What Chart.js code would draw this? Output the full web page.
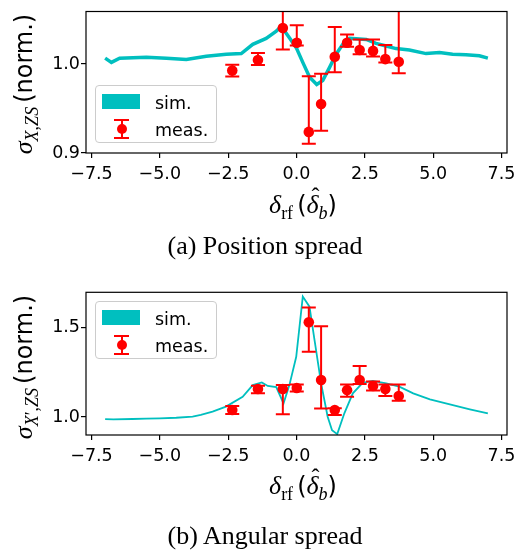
<!DOCTYPE html>
<html><head><meta charset="utf-8">
<script src="https://cdn.jsdelivr.net/npm/chart.js@4.4.0/dist/chart.umd.min.js"></script>
<style>
html,body{margin:0;padding:0;background:#fff;}
#wrap{position:relative;width:528px;height:557px;overflow:hidden;background:#fff;}
canvas{position:absolute;left:0;}
.ylab{position:absolute;white-space:nowrap;transform:translate(-50%,-50%) rotate(-90deg);line-height:30px;color:#000;}
.sans{font-family:"DejaVu Sans";font-size:24px;}
.si{font-family:"Liberation Serif";font-style:italic;font-size:26px;}
.sr{font-family:"Liberation Serif";font-size:26px;}
.sub{font-family:"Liberation Serif";font-size:18px;position:relative;top:6px;}
.hatw{position:relative;display:inline-block;}
.hat{position:absolute;left:5px;top:-9px;font-family:"Liberation Serif";font-size:24px;font-style:normal;}
.xlab{position:absolute;white-space:nowrap;transform:translateX(-50%);line-height:30px;color:#000;}
.cap{position:absolute;white-space:nowrap;transform:translateX(-50%);font-family:"Liberation Serif";font-size:26px;line-height:26px;color:#000;}
.leg{position:absolute;width:122px;height:58px;box-sizing:border-box;border:1px solid #cccccc;border-radius:4px;background:rgba(255,255,255,0.8);}
.leg .patch{position:absolute;left:6px;top:8px;width:38px;height:15px;background:#00bfbf;}
.leg .lt{position:absolute;left:59px;font-family:"DejaVu Sans";font-size:17.5px;line-height:18px;color:#000;}
.leg .ev{position:absolute;left:24.5px;top:33px;width:2px;height:19px;background:#ff0000;}
.leg .ec{position:absolute;left:18px;width:15px;height:2px;background:#ff0000;}
.leg .em{position:absolute;left:20.5px;top:37.5px;width:10px;height:10px;border-radius:50%;background:#ff0000;}
</style>
</head><body>
<div id="wrap">
  <canvas id="cA" width="528" height="190" style="top:0px;width:528px;height:190px;"></canvas>
  <canvas id="cB" width="528" height="190" style="top:280px;width:528px;height:190px;"></canvas>

  <div class="ylab" style="left:25px;top:84px;"><span class="si">σ</span><span class="sub"><i>X</i>,<i>ZS</i></span> <span class="sans">(norm.)</span></div>
  <div class="ylab" style="left:25px;top:367px;"><span class="si">σ</span><span class="sub"><i>X</i>′,<i>ZS</i></span> <span class="sans">(norm.)</span></div>

  <div class="xlab" style="left:303px;top:190px;"><span class="si">δ</span><span class="sub">rf</span> <span class="sans">(</span><span class="si hatw">δ<span class="hat">ˆ</span></span><span class="sub"><i>b</i></span><span class="sans">)</span></div>
  <div class="xlab" style="left:303px;top:471px;"><span class="si">δ</span><span class="sub">rf</span> <span class="sans">(</span><span class="si hatw">δ<span class="hat">ˆ</span></span><span class="sub"><i>b</i></span><span class="sans">)</span></div>

  <div class="cap" style="left:265px;top:233px;">(a) Position spread</div>
  <div class="cap" style="left:265px;top:523px;">(b) Angular spread</div>

  <div class="leg" style="left:95px;top:85px;">
    <div class="patch"></div><span class="lt" style="top:8px;">sim.</span>
    <div class="ev"></div><div class="ec" style="top:33px;"></div><div class="ec" style="top:51px;"></div><div class="em"></div>
    <span class="lt" style="top:35px;">meas.</span>
  </div>
  <div class="leg" style="left:95px;top:301px;">
    <div class="patch"></div><span class="lt" style="top:8px;">sim.</span>
    <div class="ev"></div><div class="ec" style="top:33px;"></div><div class="ec" style="top:51px;"></div><div class="em"></div>
    <span class="lt" style="top:35px;">meas.</span>
  </div>
</div>
<script>
// ---- data ----
const xTickValues = [-7.5, -5.0, -2.5, 0.0, 2.5, 5.0, 7.5];
const xTickLabels = ['\u22127.5', '\u22125.0', '\u22122.5', '0.0', '2.5', '5.0', '7.5'];
const yTicksPos = [0.9, 1.0];
const yTickLabelsPos = ['0.9', '1.0'];
const yTicksAng = [1.0, 1.5];
const yTickLabelsAng = ['1.0', '1.5'];

const measX = [-2.35, -1.41, -0.50, 0.01, 0.45, 0.90, 1.40, 1.85, 2.31, 2.80, 3.25, 3.74];

const measPos = [0.9926, 1.0044, 1.0405, 1.0239, 0.9237, 0.9550, 1.0081, 1.0239, 1.0158, 1.0147, 1.0055, 1.0025];
const measPosErrLo = [0.0066, 0.0055, 0.0243, 0.0030, 0.0133, 0.0300, 0.0173, 0.0044, 0.0048, 0.0063, 0.0037, 0.0129];
const measPosErrHi = [0.0066, 0.0080, 0.0243, 0.0196, 0.0626, 0.0340, 0.0335, 0.0093, 0.0118, 0.0129, 0.0159, 0.0700];

const measAng = [1.039, 1.156, 1.156, 1.162, 1.528, 1.206, 1.039, 1.150, 1.206, 1.173, 1.156, 1.117];
const measAngErrLo = [0.022, 0.024, 0.140, 0.020, 0.164, 0.158, 0.028, 0.037, 0.022, 0.025, 0.039, 0.026];
const measAngErrHi = [0.022, 0.019, 0.022, 0.020, 0.082, 0.300, 0.010, 0.032, 0.078, 0.025, 0.026, 0.065];

const simPosX = [-7.0, -6.77, -6.47, -5.49, -4.76, -4.03, -3.30, -2.57, -2.02, -1.60, -1.11, -0.74, -0.56, -0.26, -0.01, 0.23, 0.48, 0.74, 0.96, 1.21, 1.45, 1.69, 1.94, 2.18, 2.55, 2.91, 3.28, 3.64, 4.13, 4.74, 5.23, 5.71, 6.20, 6.69, 7.0];
const simPos = [1.0066, 1.0018, 1.0066, 1.0077, 1.0066, 1.0050, 1.0088, 1.0110, 1.0118, 1.0221, 1.0288, 1.0368, 1.0424, 1.0294, 1.0184, 1.0018, 0.9852, 0.9771, 0.9815, 0.9962, 1.0110, 1.0221, 1.0288, 1.0283, 1.0276, 1.0232, 1.0202, 1.0173, 1.0158, 1.0117, 1.0129, 1.0110, 1.0103, 1.0092, 1.0066];

const simAngX = [-7.0, -6.7, -6.0, -5.5, -5.0, -4.4, -3.8, -3.5, -3.07, -2.58, -1.97, -1.60, -1.27, -1.05, -0.74, -0.475, -0.26, -0.01, 0.23, 0.475, 0.66, 0.90, 1.14, 1.30, 1.49, 1.75, 2.06, 2.42, 2.79, 3.28, 3.76, 4.27, 4.88, 5.61, 6.34, 7.0];
const simAng = [0.989, 0.987, 0.989, 0.991, 0.993, 0.996, 1.002, 1.012, 1.030, 1.058, 1.113, 1.178, 1.193, 1.173, 1.167, 1.076, 1.178, 1.336, 1.671, 1.615, 1.429, 1.188, 1.002, 0.927, 0.905, 1.021, 1.132, 1.191, 1.202, 1.188, 1.169, 1.132, 1.099, 1.071, 1.043, 1.020];

// ---- plugins ----
const errorBarPlugin = {
  id: 'errbars',
  beforeDatasetDraw(chart, args, opts) {
    if (args.index !== 0) return;
    const eb = chart.options.plugins.errbars;
    if (!eb) return;
    const xs = chart.scales.x, ys = chart.scales.y, ctx = chart.ctx, a = chart.chartArea;
    ctx.save();
    ctx.beginPath(); ctx.rect(a.left, a.top, a.right - a.left, a.bottom - a.top); ctx.clip();
    ctx.strokeStyle = '#ff0000'; ctx.lineWidth = 2;
    eb.x.forEach((xv, i) => {
      const px = xs.getPixelForValue(xv);
      const yHi = ys.getPixelForValue(eb.y[i] + eb.hi[i]);
      const yLo = ys.getPixelForValue(eb.y[i] - eb.lo[i]);
      ctx.beginPath();
      ctx.moveTo(px, yHi); ctx.lineTo(px, yLo);
      ctx.moveTo(px - 7, yHi); ctx.lineTo(px + 7, yHi);
      ctx.moveTo(px - 7, yLo); ctx.lineTo(px + 7, yLo);
      ctx.stroke();
    });
    ctx.restore();
  }
};
const framePlugin = {
  id: 'frame',
  afterDraw(chart) {
    const a = chart.chartArea, ctx = chart.ctx;
    ctx.save(); ctx.strokeStyle = '#000'; ctx.lineWidth = 1.2;
    ctx.strokeRect(a.left, a.top, a.right - a.left, a.bottom - a.top);
    ctx.restore();
  }
};

Chart.defaults.font.family = 'DejaVu Sans';
Chart.defaults.color = '#000';

function build(id, cfg) {
  return new Chart(document.getElementById(id), {
    type: 'scatter',
    data: {
      datasets: [
        { label: 'meas.', order: 0, data: measX.map((x, i) => ({x, y: cfg.meas[i]})),
          pointRadius: 5.3, pointBackgroundColor: '#ff0000', pointBorderWidth: 0, showLine: false },
        { label: 'sim.', order: 1, data: cfg.simX.map((x, i) => ({x, y: cfg.sim[i]})),
          showLine: true, borderColor: '#00bfbf', borderWidth: cfg.simWidth, pointRadius: 0, tension: 0, fill: false }
      ]
    },
    options: {
      responsive: false, animation: false, devicePixelRatio: 1,
      layout: { padding: { top: cfg.padTop, right: 21, left: 0, bottom: 0 } },
      plugins: {
        legend: { display: false }, tooltip: { enabled: false },
        errbars: { x: measX, y: cfg.meas, lo: cfg.lo, hi: cfg.hi }
      },
      scales: {
        x: {
          type: 'linear', min: -7.7, max: 7.7,
          afterBuildTicks: s => { s.ticks = xTickValues.map(v => ({value: v})); },
          afterFit: s => { s.height = cfg.xHeight; },
          ticks: { callback: (v, i) => xTickLabels[i], font: { size: 17.5 }, color: '#000', padding: 6, maxRotation: 0, autoSkip: false },
          grid: { display: true, drawOnChartArea: false, drawTicks: true, tickLength: 5, color: '#000', lineWidth: 1.2 },
          border: { display: false }
        },
        y: {
          type: 'linear', min: cfg.yMin, max: cfg.yMax,
          afterBuildTicks: s => { s.ticks = cfg.yTicks.map(v => ({value: v})); },
          afterFit: s => { s.width = 86; },
          ticks: { callback: (v, i) => cfg.yLabels[i], font: { size: 17.5 }, color: '#000', padding: 1 },
          grid: { display: true, drawOnChartArea: false, drawTicks: true, tickLength: 5, color: '#000', lineWidth: 1.2 },
          border: { display: false }
        }
      }
    },
    plugins: [errorBarPlugin, framePlugin]
  });
}

build('cA', { meas: measPos, lo: measPosErrLo, hi: measPosErrHi, simX: simPosX, sim: simPos, simWidth: 3.5,
  padTop: 10, xHeight: 37, yMin: 0.9, yMax: 1.059, yTicks: yTicksPos, yLabels: yTickLabelsPos });
build('cB', { meas: measAng, lo: measAngErrLo, hi: measAngErrHi, simX: simAngX, sim: simAng, simWidth: 1.8,
  padTop: 12.3, xHeight: 35, yMin: 0.9, yMax: 1.695, yTicks: yTicksAng, yLabels: yTickLabelsAng });
</script>
</body></html>
